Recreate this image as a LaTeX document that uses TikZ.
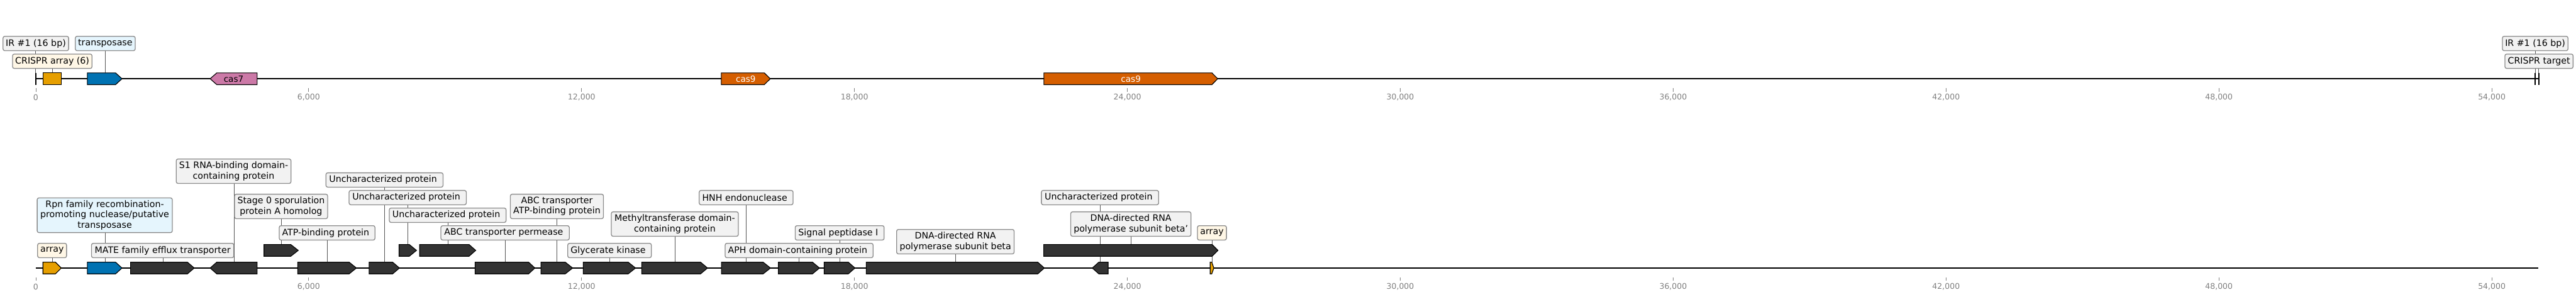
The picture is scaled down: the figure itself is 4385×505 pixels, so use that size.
\documentclass[tikz,border=0pt]{standalone}
\usepackage{fontspec}
\setmainfont{DejaVu Sans}
\usetikzlibrary{backgrounds}
\definecolor{corange}{HTML}{E69F00}
\definecolor{cblue}{HTML}{0072B2}
\definecolor{cpink}{HTML}{CC79A7}
\definecolor{cverm}{HTML}{D55E00}
\definecolor{cdark}{HTML}{333333}
\definecolor{fgray}{HTML}{F2F2F2}
\definecolor{fcream}{HTML}{FFF7E6}
\definecolor{fblue}{HTML}{E5F5FD}
\definecolor{bgray}{HTML}{8C8C8C}
\definecolor{lgray}{HTML}{555555}
\definecolor{tgray}{HTML}{808080}
\newcommand{\labfont}{\fontsize{15.2}{17.3}\selectfont}
\newcommand{\genefont}{\fontsize{14.5}{16}\selectfont}
\newcommand{\tickfont}{\fontsize{13.4}{15}\selectfont}
\newcommand{\fgene}[5]{\path[#5] (#1,#4-10) -- (#2,#4-10) -- (#3,#4) -- (#2,#4+10) -- (#1,#4+10) -- cycle;}
\newcommand{\rgene}[5]{\path[#5] (#1,#4) -- (#2,#4-10) -- (#3,#4-10) -- (#3,#4+10) -- (#2,#4+10) -- cycle;}
\newcommand{\tsp}{\kern4.8pt}
\begin{document}
\begin{tikzpicture}[x=1pt,y=-1pt,
  lab/.style={draw=bgray, line width=1.4pt, rounded corners=3pt, inner sep=0pt, font=\labfont, text=black, minimum height=24.4pt},
  labm/.style={lab, align=center, minimum height=41.6pt},
  leader/.style={draw=lgray, line width=1.1pt},
  gn/.style={draw=black, line width=1.2pt, line join=miter},
  bb/.style={line width=2.6pt, black},
  tk/.style={draw=tgray, line width=1pt},
  tl/.style={text=tgray, font=\tickfont, inner sep=0pt},
  irbar/.style={line width=2.2pt, black},
  gtxt/.style={font=\genefont, inner sep=0pt}]
\useasboundingbox (0,0) rectangle (4385,505);

% ---------- backbones ----------
\begin{scope}[on background layer]
\coordinate (tb0) at (61,134); \coordinate (tb1) at (4322,134);
\coordinate (bb0) at (61,456); \coordinate (bb1) at (4321,456);
\draw[bb] (tb0) -- (tb1);
\draw[bb] (bb0) -- (bb1);
\end{scope}

% ---------- ticks ----------
\foreach \k/\t in {0/0,1/{6,000},2/{12,000},3/{18,000},4/{24,000},5/{30,000},6/{36,000},7/{42,000},8/{48,000},9/{54,000}} {
  \pgfmathsetmacro\xx{61+464.52*\k}
  \coordinate (tka\k) at (\xx,150); \coordinate (tkb\k) at (\xx,156);
  \draw[tk] (tka\k) -- (tkb\k);
  \node[tl] (tt\k) at (\xx,166) {\t};
  \coordinate (tkc\k) at (\xx,472); \coordinate (tkd\k) at (\xx,478);
  \draw[tk] (tkc\k) -- (tkd\k);
  \node[tl] (tbl\k) at (\xx,488) {\t};
}

% ---------- top track genes ----------
\draw[irbar] (61,124) -- (61,144);
\draw[irbar] (4315.7,124) -- (4315.7,144);
\draw[irbar] (4321.7,124) -- (4321.7,144);
\path[gn, fill=corange] (73,124) rectangle (104.3,144);
\fgene{148.7}{196.7}{207.7}{134}{gn, fill=cblue}
\rgene{357.7}{369}{437.7}{134}{gn, fill=cpink}
\node[gtxt] (tcas7) at (397.7,134) {cas7};
\fgene{1227.8}{1301}{1311.3}{134}{gn, fill=cverm}
\node[gtxt, text=white] (tcas9a) at (1269.5,134) {cas9};
\fgene{1777}{2063}{2072.8}{134}{gn, fill=cverm}
\node[gtxt, text=white] (tcas9b) at (1925,134) {cas9};

\coordinate (gIRl) at (61,124);
\coordinate (gCRa) at (89,124);
\coordinate (gTra) at (179.7,124);
\coordinate (gIRr) at (4315.7,124);
\coordinate (gCRt) at (4321.7,124);

% ---------- top labels ----------
\node[lab, fill=fgray, minimum width=111.7pt] (LIRl) at (61,74) {IR \#1 (16 bp)};
\node[lab, fill=fcream, minimum width=135.3pt] (LCRa) at (89,104.2) {CRISPR array (6)};
\node[lab, fill=fblue, minimum width=102pt] (LTra) at (179.2,74) {transposase};
\node[lab, fill=fgray, minimum width=111.7pt] (LIRr) at (4315.5,74) {IR \#1 (16 bp)};
\node[lab, fill=fgray, minimum width=116pt] (LCRt) at (4322,104.2) {CRISPR target};

% ---------- bottom track genes ----------
% lower row
\fgene{73}{94.3}{104.3}{456}{gn, fill=corange}
\fgene{148.7}{196.7}{207.7}{456}{gn, fill=cblue}
\fgene{222.3}{319}{330.7}{456}{gn, fill=cdark}
\rgene{357.7}{369}{437.7}{456}{gn, fill=cdark}
\fgene{506.7}{594.3}{606.7}{456}{gn, fill=cdark}
\fgene{628.3}{668.3}{680}{456}{gn, fill=cdark}
\fgene{808.7}{899.8}{910.5}{456}{gn, fill=cdark}
\fgene{920.8}{962.2}{974.8}{456}{gn, fill=cdark}
\fgene{992.8}{1069.3}{1081.9}{456}{gn, fill=cdark}
\fgene{1092.3}{1192.5}{1204.4}{456}{gn, fill=cdark}
\fgene{1228.1}{1299}{1311.6}{456}{gn, fill=cdark}
\fgene{1325}{1383}{1395}{456}{gn, fill=cdark}
\fgene{1403}{1444}{1455.4}{456}{gn, fill=cdark}
\fgene{1474.6}{1766.5}{1777.7}{456}{gn, fill=cdark}
\rgene{1859.3}{1870.5}{1886.3}{456}{gn, fill=cdark}
\fgene{2060}{2062.7}{2066.3}{456}{gn, fill=corange}
% upper row
\fgene{449.3}{495}{507.7}{426}{gn, fill=cdark}
\fgene{679.3}{696.7}{709}{426}{gn, fill=cdark}
\fgene{714.3}{798.4}{809.8}{426}{gn, fill=cdark}
\fgene{1776.7}{2063.3}{2073.3}{426}{gn, fill=cdark}

\coordinate (gArr1) at (89.3,446);
\coordinate (gRpn) at (179.7,446);
\coordinate (gMATE) at (277.3,446);
\coordinate (gS1) at (398.3,446);
\coordinate (gStage) at (479.3,416);
\coordinate (gATP) at (557.3,446);
\coordinate (gUn1) at (654.3,446);
\coordinate (gUn2) at (694.3,416);
\coordinate (gUn3) at (762.4,416);
\coordinate (gPerm) at (860.4,446);
\coordinate (gABCa) at (948.4,446);
\coordinate (gGly) at (1038.3,446);
\coordinate (gMeth) at (1149.3,446);
\coordinate (gHNH) at (1270.5,446);
\coordinate (gAPH) at (1360.3,446);
\coordinate (gSig) at (1429.5,446);
\coordinate (gBeta) at (1626.3,446);
\coordinate (gUn4) at (1873.3,446);
\coordinate (gBetap) at (1925.3,416);
\coordinate (gArr2) at (2063.3,446);

% ---------- bottom labels ----------
\node[lab, fill=fcream, minimum width=49.3pt] (LArr1) at (88.7,426.2) {array};
\node[labm, fill=fblue, minimum width=230pt, minimum height=59pt] (LRpn) at (178.3,366.2) {Rpn family recombination-\\promoting nuclease/putative\\transposase};
\node[lab, fill=fgray, minimum width=242.3pt] (LMATE) at (276.9,426.2) {MATE family efflux transporter};
\node[labm, fill=fgray, minimum width=195.3pt] (LS1) at (397.7,291.3) {S1 RNA-binding domain-\\containing protein};
\node[labm, fill=fgray, minimum width=158.4pt] (LStage) at (478.5,351.2) {Stage 0 sporulation\\protein A homolog};
\node[lab, fill=fgray, minimum width=163pt] (LATP) at (556.8,396.2) {ATP-binding protein\tsp};
\node[lab, fill=fgray, minimum width=199.3pt] (LUn1) at (654.5,306.2) {Uncharacterized protein\tsp};
\node[lab, fill=fgray, minimum width=199.5pt] (LUn2) at (694,336.2) {Uncharacterized protein\tsp};
\node[lab, fill=fgray, minimum width=198.8pt] (LUn3) at (762.1,366.2) {Uncharacterized protein\tsp};
\node[lab, fill=fgray, minimum width=218.5pt] (LPerm) at (859.8,396.2) {ABC transporter permease\tsp};
\node[labm, fill=fgray, minimum width=158.4pt] (LABCa) at (948,351.2) {ABC transporter\\ATP-binding protein};
\node[lab, fill=fgray, minimum width=142.3pt] (LGly) at (1037.6,426.2) {Glycerate kinase\tsp};
\node[labm, fill=fgray, minimum width=216.2pt] (LMeth) at (1148.7,381.2) {Methyltransferase domain-\\containing protein};
\node[lab, fill=fgray, minimum width=159.8pt] (LHNH) at (1270.1,336.2) {HNH endonuclease\tsp};
\node[lab, fill=fgray, minimum width=251.9pt] (LAPH) at (1360.3,426.2) {APH domain-containing protein\tsp};
\node[lab, fill=fgray, minimum width=151.4pt] (LSig) at (1429.3,396.2) {Signal peptidase I\tsp};
\node[labm, fill=fgray, minimum width=200pt] (LBeta) at (1626.3,411.2) {DNA-directed RNA\\polymerase subunit beta};
\node[lab, fill=fgray, minimum width=199.6pt] (LUn4) at (1872.5,336.2) {Uncharacterized protein\tsp};
\node[labm, fill=fgray, minimum width=204.6pt] (LBetap) at (1925,381.2) {DNA-directed RNA\\polymerase subunit beta'};
\node[lab, fill=fcream, minimum width=49.4pt] (LArr2) at (2063,396.2) {array};

% ---------- leaders (behind everything) ----------
\begin{scope}[on background layer]
\foreach \l/\g in {LIRl/gIRl, LCRa/gCRa, LTra/gTra, LIRr/gIRr, LCRt/gCRt,
  LArr1/gArr1, LRpn/gRpn, LMATE/gMATE, LS1/gS1, LStage/gStage, LATP/gATP,
  LUn1/gUn1, LUn2/gUn2, LUn3/gUn3, LPerm/gPerm, LABCa/gABCa, LGly/gGly,
  LMeth/gMeth, LHNH/gHNH, LAPH/gAPH, LSig/gSig, LBeta/gBeta, LUn4/gUn4,
  LBetap/gBetap, LArr2/gArr2}
  \draw[leader] (\g |- \l.south) -- (\g);
\end{scope}
\end{tikzpicture}
\end{document}
